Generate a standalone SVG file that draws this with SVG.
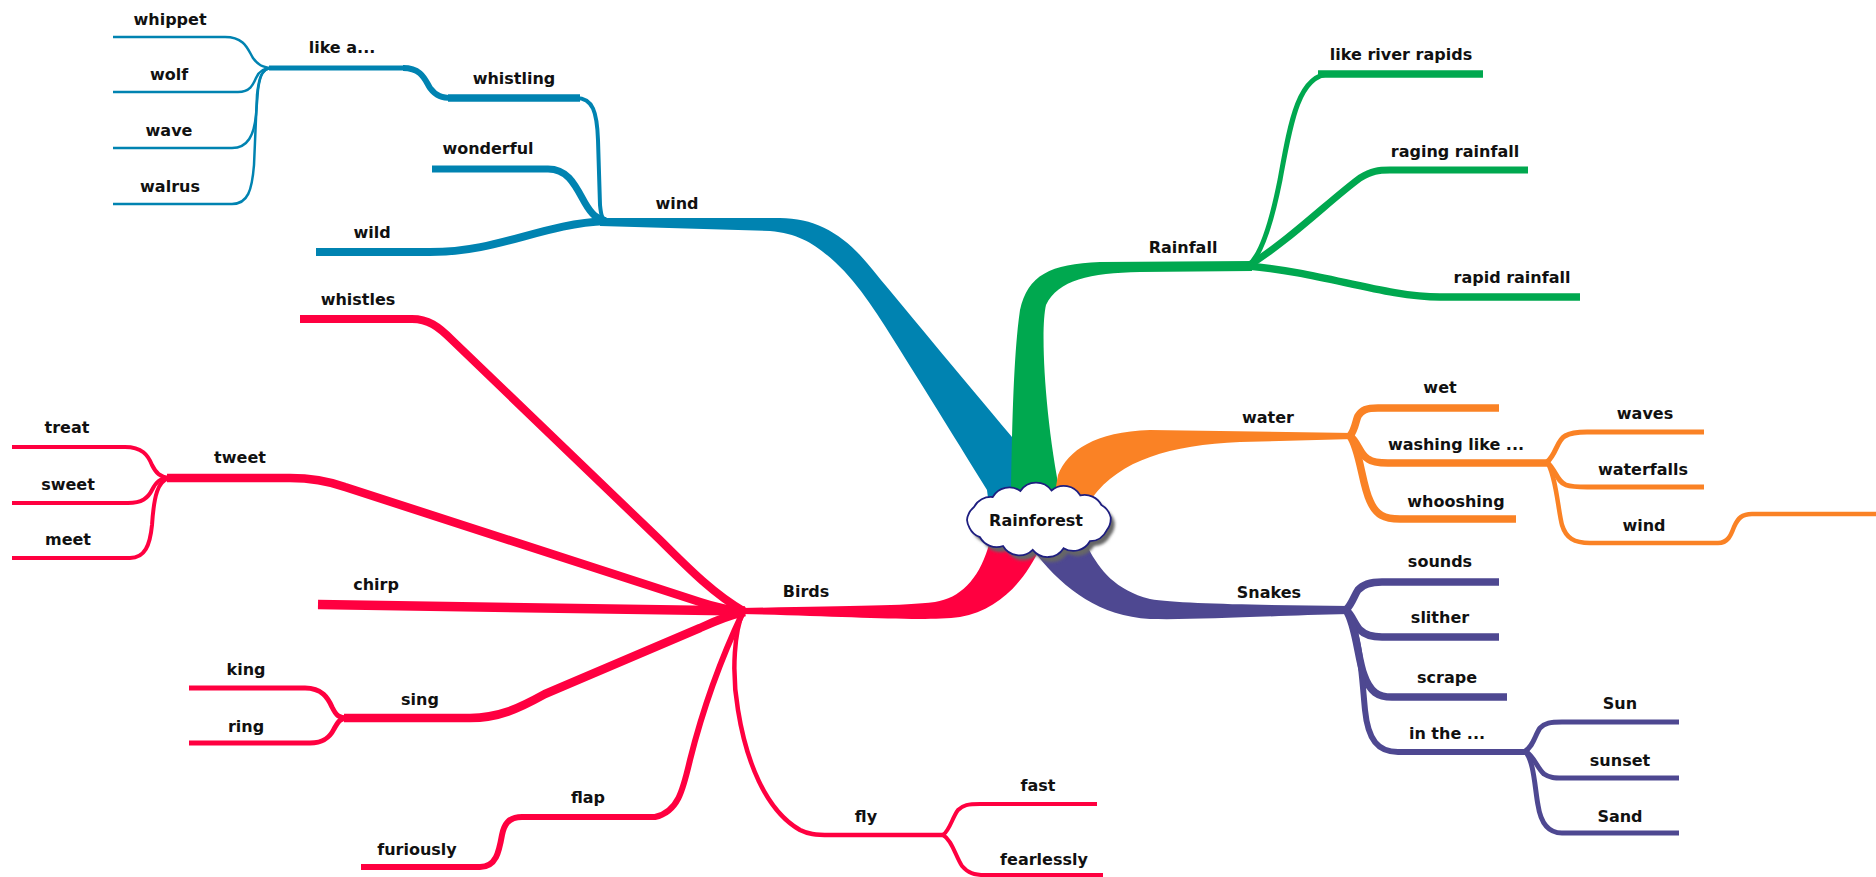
<svg xmlns="http://www.w3.org/2000/svg" xmlns:xlink="http://www.w3.org/1999/xlink" width="1876" height="877" viewBox="0 0 1876 877">
<defs>
<style>
.t{font-family:"DejaVu Sans","Liberation Sans",sans-serif;font-weight:bold;font-size:16px;fill:#111;text-anchor:middle}
.s{fill:none;stroke-linecap:butt;stroke-linejoin:round}
.b{stroke:#0083B1}.g{stroke:#00A84F}.o{stroke:#FA8225}.p{stroke:#4E4891}.r{stroke:#FF0040}
.fb{fill:#0083B1}.fg{fill:#00A84F}.fo{fill:#FA8225}.fp{fill:#4E4891}.fr{fill:#FF0040}
</style>
<filter id="sh" x="-20%" y="-30%" width="140%" height="160%"><feGaussianBlur stdDeviation="1.5"/></filter>
<path id="cloud" d="M967 520 A19 19 0 0 1 973.8 507.3 A19 19 0 0 1 992.7 497 A19 19 0 0 1 1020.4 491 A19 19 0 0 1 1051.5 490.5 A19 19 0 0 1 1080.3 495.4 A19 19 0 0 1 1101.4 505 A19 19 0 0 1 1110.7 517.4 A19 19 0 0 1 1106.7 530.3 A19 19 0 0 1 1089.9 541.2 A19 19 0 0 1 1063.6 548.2 A19 19 0 0 1 1032.7 549.9 A19 19 0 0 1 1003 546 A19 19 0 0 1 980 537.2 A19 19 0 0 1 969.5 527.8 A19 19 0 0 1 967 520 Z"/>
</defs>
<rect width="1876" height="877" fill="#ffffff"/>
<g id="connectors">
<!-- wind (blue) -->
<path class="fb" d="M600 218 L780 218 C815 218 843 234 867 263 C900 303 960 375 1012 437 L1013 498 L988 498 L987 490 C960 446 925 390 900 350 C880 318 860 285 835 262 C815 244 800 234 770 231 L600 226 Z"/>
<path class="s b" stroke-width="8" d="M316 252 L430 252 C500 252 540 224 606 221"/>
<path class="s b" stroke-width="7" d="M432 169 L548 169 C568 169 575 185 585 203 C592 215 597 219 606 221"/>
<path class="s b" stroke-width="7.5" d="M448 98 L580 98"/>
<path class="s b" stroke-width="4" d="M576 98 C593 98 597 112 598 140 L600 205 C601 215 602 219 606 221"/>
<path class="s b" stroke-width="5" d="M269 68 L405 68"/>
<path class="s b" stroke-width="6" d="M403 68 C422 68 425 80 430 88 C436 96 442 98 452 98"/>
<path class="s b" stroke-width="2.5" d="M113 37 L225 37 C245 37 248 50 253 58 C258 65 262 67 271 68"/>
<path class="s b" stroke-width="2.5" d="M113 92 L238 92 C250 92 253 85 256 78 C259 71 263 68 271 68"/>
<path class="s b" stroke-width="2.5" d="M113 148 L232 148 C248 148 254 135 256 115 L258 90 C260 75 263 69 271 68"/>
<path class="s b" stroke-width="2.5" d="M113 204 L232 204 C248 204 252 190 254 165 L257 95 C259 76 262 69 271 68"/>
<!-- Rainfall (green) -->
<path class="fg" d="M1011 498 C1012 420 1014 350 1020 310 C1028 275 1050 264 1100 262 L1252 261 L1252 271 L1140 272 C1090 273 1058 280 1046 305 C1040 330 1045 420 1061 498 Z"/>
<path class="s g" stroke-width="5" d="M1248 266 C1262 255 1272 220 1280 180 C1290 125 1298 74 1330 74 L1483 74"/>
<path class="s g" stroke-width="7.5" d="M1318 74 L1483 74"/>
<path class="s g" stroke-width="7" d="M1248 266 C1290 240 1330 200 1360 178 C1372 171 1378 170 1390 170 L1528 170"/>
<path class="s g" stroke-width="7.5" d="M1248 266 C1320 272 1385 297 1440 297 L1580 297"/>
<!-- water (orange) -->
<path class="fo" d="M1054 498 L1058 475 C1068 450 1095 432 1150 430 L1354 433 L1354 439 L1240 442 C1170 445 1120 460 1092 498 Z"/>
<path class="s o" stroke-width="7.5" d="M1350 436 C1355 430 1356 420 1358 416 C1362 410 1366 408 1378 408 L1499 408"/>
<path class="s o" stroke-width="7.5" d="M1350 436 C1358 442 1360 455 1368 459 C1372 462 1378 463 1388 463 L1549 463"/>
<path class="s o" stroke-width="7.5" d="M1350 436 C1360 450 1362 485 1370 501 C1376 515 1384 519 1400 519 L1516 519"/>
<path class="s o" stroke-width="5" d="M1547 462 C1556 455 1557 440 1565 436 C1570 433 1575 432 1587 432 L1704 432"/>
<path class="s o" stroke-width="5" d="M1547 462 C1556 470 1557 482 1566 485 C1572 487 1578 487 1587 487 L1704 487"/>
<path class="s o" stroke-width="4.5" d="M1547 462 C1556 475 1558 510 1562 525 C1566 538 1574 543 1590 543 L1718 543 C1728 543 1731 535 1734 527 C1738 518 1742 514 1752 514 L1876 514"/>
<!-- Snakes (purple) -->
<path class="fp" d="M1036 540 L1086 540 L1088 548 C1100 570 1115 590 1150 599 C1180 604 1260 605 1350 606 L1350 614 C1260 616 1200 620 1150 619 C1100 616 1065 590 1037 555 Z"/>
<path class="s p" stroke-width="7.5" d="M1346 610 C1352 604 1354 596 1358 590 C1363 584 1370 582 1382 582 L1499 582"/>
<path class="s p" stroke-width="7.5" d="M1346 610 C1352 615 1355 625 1360 630 C1365 635 1372 637 1382 637 L1499 637"/>
<path class="s p" stroke-width="7.5" d="M1346 610 C1356 625 1358 660 1364 675 C1370 692 1378 697 1392 697 L1507 697"/>
<path class="s p" stroke-width="6" d="M1346 610 C1360 630 1362 680 1365 710 C1368 740 1378 752 1398 752 L1527 752"/>
<path class="s p" stroke-width="5" d="M1525 751 C1533 747 1535 735 1540 728 C1545 723 1550 722 1562 722 L1679 722"/>
<path class="s p" stroke-width="5" d="M1525 751 C1534 756 1537 768 1544 774 C1550 778 1555 778 1562 778 L1679 778"/>
<path class="s p" stroke-width="5" d="M1525 751 C1534 760 1535 790 1538 805 C1541 825 1550 833 1562 833 L1679 833"/>
<!-- Birds (red) -->
<path class="fr" d="M990 540 L1040 540 L1040 548 C1025 580 1000 610 960 617 C920 622 850 616 741 614 L741 608 C850 606 900 606 935 602 C960 598 978 580 988 548 Z"/>
<path class="s r" stroke-width="8" d="M300 319 L412 319 C428 319 438 326 452 340 L660 540 C690 570 715 595 745 612"/>
<path class="s r" stroke-width="8.5" d="M167 478 L290 478 C310 478 328 481 345 487 L700 602 C715 607 730 610 745 612"/>
<path class="s r" stroke-width="4" d="M12 447 L125 447 C142 447 148 455 152 465 C156 473 160 477 169 478"/>
<path class="s r" stroke-width="4" d="M12 503 L128 503 C142 503 148 498 152 490 C156 482 160 478 169 478"/>
<path class="s r" stroke-width="4" d="M12 558 L130 558 C145 558 150 545 152 525 C154 495 158 481 169 478"/>
<path class="s r" stroke-width="9.5" d="M318 604.5 L745 611"/>
<path class="s r" stroke-width="8.5" d="M344 718 L470 718 C498 718 518 709 545 694 L700 628 C715 621 730 615 745 612"/>
<path class="s r" stroke-width="5" d="M189 688 L305 688 C322 688 328 698 332 707 C336 715 338 718 348 718"/>
<path class="s r" stroke-width="5" d="M189 743 L310 743 C324 743 330 737 334 729 C338 722 340 718 348 718"/>
<path class="s r" stroke-width="6" d="M743 612 C725 650 705 700 690 760 C683 790 678 812 655 817 L522 817 C508 817 504 825 502 835 C499 852 496 867 480 867 L361 867"/>
<path class="s r" stroke-width="4.5" d="M743 612 C735 630 731 670 738 710 C746 760 765 810 800 830 C808 834 815 835 830 835 L945 835"/>
<path class="s r" stroke-width="4" d="M943 835 C950 830 952 818 958 810 C963 805 968 804 980 804 L1097 804"/>
<path class="s r" stroke-width="4" d="M943 835 C952 840 955 855 962 866 C968 873 974 875 985 875 L1103 875"/>
</g>
<g id="node-rainforest">
<use xlink:href="#cloud" transform="translate(4,5)" fill="#666666" filter="url(#sh)"/>
<use xlink:href="#cloud" fill="#ffffff" stroke="#1E1E80" stroke-width="1.8"/>
<text class="t" x="1036" y="526">Rainforest</text>
</g>
<g id="node-wind"><text class="t" x="677" y="209">wind</text></g>
<g id="node-wild"><text class="t" x="372" y="238">wild</text></g>
<g id="node-wonderful"><text class="t" x="488" y="154">wonderful</text></g>
<g id="node-whistling"><text class="t" x="514" y="84">whistling</text></g>
<g id="node-like-a"><text class="t" x="342" y="53">like a...</text></g>
<g id="node-whippet"><text class="t" x="170" y="25">whippet</text></g>
<g id="node-wolf"><text class="t" x="169" y="80">wolf</text></g>
<g id="node-wave"><text class="t" x="169" y="136">wave</text></g>
<g id="node-walrus"><text class="t" x="170" y="192">walrus</text></g>
<g id="node-rainfall"><text class="t" x="1183" y="253">Rainfall</text></g>
<g id="node-like-river-rapids"><text class="t" x="1401" y="60">like river rapids</text></g>
<g id="node-raging-rainfall"><text class="t" x="1455" y="157">raging rainfall</text></g>
<g id="node-rapid-rainfall"><text class="t" x="1512" y="283">rapid rainfall</text></g>
<g id="node-water"><text class="t" x="1268" y="423">water</text></g>
<g id="node-wet"><text class="t" x="1440" y="393">wet</text></g>
<g id="node-washing-like"><text class="t" x="1456" y="450">washing like ...</text></g>
<g id="node-whooshing"><text class="t" x="1456" y="507">whooshing</text></g>
<g id="node-waves"><text class="t" x="1645" y="419">waves</text></g>
<g id="node-waterfalls"><text class="t" x="1643" y="475">waterfalls</text></g>
<g id="node-wind2"><text class="t" x="1644" y="531">wind</text></g>
<g id="node-snakes"><text class="t" x="1269" y="598">Snakes</text></g>
<g id="node-sounds"><text class="t" x="1440" y="567">sounds</text></g>
<g id="node-slither"><text class="t" x="1440" y="623">slither</text></g>
<g id="node-scrape"><text class="t" x="1447" y="683">scrape</text></g>
<g id="node-in-the"><text class="t" x="1447" y="739">in the ...</text></g>
<g id="node-sun"><text class="t" x="1620" y="709">Sun</text></g>
<g id="node-sunset"><text class="t" x="1620" y="766">sunset</text></g>
<g id="node-sand"><text class="t" x="1620" y="822">Sand</text></g>
<g id="node-birds"><text class="t" x="806" y="597">Birds</text></g>
<g id="node-whistles"><text class="t" x="358" y="305">whistles</text></g>
<g id="node-tweet"><text class="t" x="240" y="463">tweet</text></g>
<g id="node-treat"><text class="t" x="67" y="433">treat</text></g>
<g id="node-sweet"><text class="t" x="68" y="490">sweet</text></g>
<g id="node-meet"><text class="t" x="68" y="545">meet</text></g>
<g id="node-chirp"><text class="t" x="376" y="590">chirp</text></g>
<g id="node-sing"><text class="t" x="420" y="705">sing</text></g>
<g id="node-king"><text class="t" x="246" y="675">king</text></g>
<g id="node-ring"><text class="t" x="246" y="732">ring</text></g>
<g id="node-flap"><text class="t" x="588" y="803">flap</text></g>
<g id="node-furiously"><text class="t" x="417" y="855">furiously</text></g>
<g id="node-fly"><text class="t" x="866" y="822">fly</text></g>
<g id="node-fast"><text class="t" x="1038" y="791">fast</text></g>
<g id="node-fearlessly"><text class="t" x="1044" y="865">fearlessly</text></g>
</svg>
